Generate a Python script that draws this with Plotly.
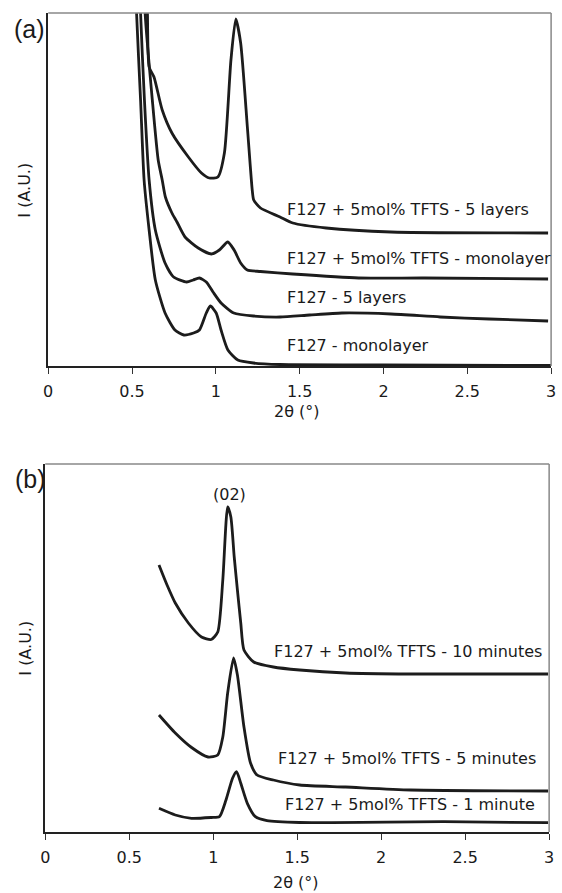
import plotly.graph_objects as go

# ---------------- Panel (a) data ----------------
a_mono_x = [0.520, 0.527, 0.551, 0.572, 0.602, 0.639, 0.697, 0.756, 0.809, 0.867, 0.902, 0.943, 0.967,
            1.002, 1.031, 1.072, 1.131, 1.225, 1.383, 2.0, 3.0]
a_mono_y = [400, 353, 266, 186, 136, 86, 53, 36, 31, 33, 36, 53, 60,
            53, 36, 16, 6, 3, 1.5, 1, 0.5]

a_5l_x = [0.545, 0.551, 0.574, 0.602, 0.639, 0.697, 0.748, 0.826, 0.865, 0.902, 0.943, 0.983, 1.031,
          1.107, 1.225, 1.383, 1.559, 1.752, 2.045, 2.338, 2.631, 2.982]
a_5l_y = [400, 353, 266, 186, 136, 103, 89, 84, 86, 88, 84, 74, 63,
          53, 50, 49, 51, 53, 52, 49, 47, 45]

a_tfts_mono_x = [0.572, 0.578, 0.621, 0.656, 0.680, 0.699, 0.738, 0.768, 0.816, 0.895, 0.973, 1.021,
                 1.071, 1.109, 1.148, 1.188, 1.266, 1.459, 1.852, 2.244, 2.982]
a_tfts_mono_y = [400, 353, 266, 206, 186, 169, 153, 144, 129, 118, 112, 116,
                 124, 116, 103, 96, 94.5, 92, 88, 88, 87]

a_tfts_5l_x = [0.588, 0.592, 0.602, 0.631, 0.680, 0.738, 0.836, 0.914, 0.961, 1.012, 1.051, 1.090,
               1.119, 1.148, 1.188, 1.217, 1.226, 1.266, 1.383, 1.459, 1.658, 2.045, 2.982]
a_tfts_5l_y = [400, 353, 299, 289, 256, 233, 209, 193, 188, 189, 213, 306,
               347, 323, 239, 176, 166, 158, 149, 143, 138, 134, 133]

a_labels = ["F127 + 5mol% TFTS - 5 layers", "F127 + 5mol% TFTS - monolayer",
            "F127 - 5 layers", "F127 - monolayer"]
a_label_y = [156, 107, 68, 20]

# ---------------- Panel (b) data ----------------
b_10_x = [0.677, 0.725, 0.774, 0.852, 0.930, 0.988, 1.027, 1.057, 1.086, 1.105, 1.125, 1.144, 1.164,
          1.183, 1.241, 1.358, 1.515, 1.788, 2.175, 2.994]
b_10_y = [267, 247, 229, 209, 195, 192.5, 200, 252, 325, 315, 275, 242, 209,
          182, 170, 165, 162, 159, 158, 158]

b_5_x = [0.677, 0.774, 0.871, 0.969, 1.027, 1.057, 1.086, 1.121, 1.144, 1.183, 1.222, 1.261, 1.358,
         1.515, 1.788, 2.175, 2.994]
b_5_y = [117, 99, 84.5, 75, 77, 95, 139, 174, 157, 105, 69, 57, 52,
         47, 45, 42, 41]

b_1_x = [0.677, 0.774, 0.871, 0.988, 1.037, 1.076, 1.115, 1.139, 1.164, 1.203, 1.251, 1.320, 1.515,
         2.373, 2.994]
b_1_y = [23.7, 17, 13.7, 14.5, 15.3, 32, 53.7, 60.3, 48.7, 28.7, 15.3, 11.3, 9.5,
         10.3, 9.3]

b_labels = ["F127 + 5mol% TFTS - 10 minutes", "F127 + 5mol% TFTS - 5 minutes",
            "F127 + 5mol% TFTS - 1 minute"]
b_label_x = [1.349, 1.374, 1.415]
b_label_y = [181, 74, 28]

x_ticks = [0, 0.5, 1, 1.5, 2, 2.5, 3]
x_ticktext = ["0", "0.5", "1", "1.5", "2", "2.5", "3"]

FONT = "DejaVu Sans"
LINE = dict(color="#1c1c1c", width=2.8)

fig = go.Figure()
for xs, ys in [(a_mono_x, a_mono_y), (a_5l_x, a_5l_y), (a_tfts_mono_x, a_tfts_mono_y), (a_tfts_5l_x, a_tfts_5l_y)]:
    fig.add_trace(go.Scatter(x=xs, y=ys, mode="lines", line=dict(LINE, shape="spline", smoothing=0.6),
                             xaxis="x", yaxis="y", showlegend=False, hoverinfo="skip"))
for xs, ys in [(b_10_x, b_10_y), (b_5_x, b_5_y), (b_1_x, b_1_y)]:
    fig.add_trace(go.Scatter(x=xs, y=ys, mode="lines", line=dict(LINE, shape="spline", smoothing=0.6),
                             xaxis="x2", yaxis="y2", showlegend=False, hoverinfo="skip"))

W, H = 562, 893
def dom(a, b, total):
    return [a / total, b / total]

xcommon = dict(range=[0, 3], tickvals=x_ticks, ticktext=x_ticktext, ticks="outside", ticklen=6,
               tickwidth=1.3, tickcolor="#333", showline=True, linecolor="#222", linewidth=1.6,
               showgrid=False, zeroline=False, tickfont=dict(family=FONT, size=16, color="#1a1a1a"),
               ticklabelstandoff=4)
ycommon = dict(showline=True, linecolor="#222", linewidth=1.6, showgrid=False, zeroline=False,
               showticklabels=False, ticks="")

fig.update_layout(
    width=W, height=H, margin=dict(l=0, r=0, t=0, b=0),
    paper_bgcolor="white", plot_bgcolor="white",
    xaxis=dict(xcommon, domain=dom(44, 556, W), anchor="y"),
    yaxis=dict(ycommon, domain=[1 - 366 / H, 1 - 13 / H], range=[0, 353], anchor="x"),
    xaxis2=dict(xcommon, domain=dom(41, 554, W), anchor="y2"),
    yaxis2=dict(ycommon, domain=[1 - 832 / H, 1 - 464 / H], range=[0, 368], anchor="x2"),
)

# top/right frame in grey
for xr, yr in [("x domain", "y domain"), ("x2 domain", "y2 domain")]:
    fig.add_shape(type="line", xref=xr, yref=yr, x0=0, x1=1, y0=1, y1=1, line=dict(color="#888", width=1.5))
    fig.add_shape(type="line", xref=xr, yref=yr, x0=1, x1=1, y0=0, y1=1, line=dict(color="#888", width=1.5))

TF = dict(family=FONT, size=16, color="#1a1a1a")
ann = []
for t, y in zip(a_labels, a_label_y):
    ann.append(dict(x=1.412, y=y, xref="x", yref="y", text=t, showarrow=False, xanchor="left",
                    yanchor="middle", font=TF))
for t, x, y in zip(b_labels, b_label_x, b_label_y):
    ann.append(dict(x=x, y=y, xref="x2", yref="y2", text=t, showarrow=False, xanchor="left",
                    yanchor="middle", font=TF))
ann.append(dict(x=1.098, y=338, xref="x2", yref="y2", text="(02)", showarrow=False,
                xanchor="center", yanchor="middle", font=TF))
# panel letters
for t, xc, yc in [("(a)", 25, 29), ("(b)", 26, 479)]:
    ann.append(dict(x=xc / W, y=1 - yc / H, xref="paper", yref="paper", text=t, showarrow=False,
                    xanchor="center", yanchor="middle",
                    font=dict(family="Liberation Sans", size=25, color="#1a1a1a")))
# axis titles
for yc in [190, 648]:
    ann.append(dict(x=20 / W, y=1 - yc / H, xref="paper", yref="paper", text="I (A.U.)", textangle=-90,
                    xanchor="center", yanchor="middle", showarrow=False, font=TF))
for yc, xc in [(411, 297), (882, 296)]:
    ann.append(dict(x=xc / W, y=1 - yc / H, xref="paper", yref="paper", text="2θ (°)",
                    xanchor="center", yanchor="middle", showarrow=False, font=TF))
fig.update_layout(annotations=ann)

fig.write_html("out.html")
